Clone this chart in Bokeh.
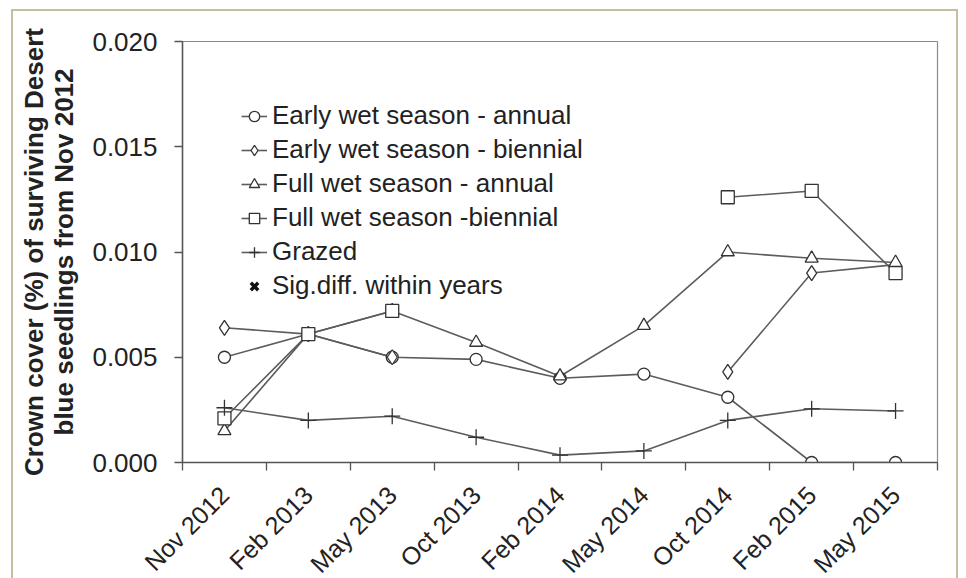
import math
from bokeh.plotting import figure
from bokeh.models import ColumnDataSource, FixedTicker, NumeralTickFormatter, Range1d, Legend, LegendItem
from bokeh.embed import file_html
from bokeh.resources import INLINE

nan = float("nan")

categories = ["Nov 2012", "Feb 2013", "May 2013", "Oct 2013", "Feb 2014",
              "May 2014", "Oct 2014", "Feb 2015", "May 2015"]
early_annual = [0.0050, 0.0061, 0.0050, 0.0049, 0.0040, 0.0042, 0.0031, 0.0000, 0.0000]
early_biennial = [0.0064, 0.0061, 0.0050, nan, nan, nan, 0.0043, 0.0090, 0.0094]
full_annual = [0.0015, 0.0061, 0.0072, 0.0057, 0.0041, 0.0065, 0.0100, 0.0097, 0.0095]
full_biennial = [0.0021, 0.0061, 0.0072, nan, nan, nan, 0.0126, 0.0129, 0.0090]
grazed = [0.0026, 0.0020, 0.0022, 0.0012, 0.00035, 0.00055, 0.0020, 0.00255, 0.00245]
y_ticks = [0.000, 0.005, 0.010, 0.015, 0.020]

series_labels = ["Early wet season - annual", "Early wet season - biennial",
                 "Full wet season - annual", "Full wet season -biennial", "Grazed"]
sig_label = "Sig.diff. within years"

n = len(categories)
xs = [2 * i + 1 for i in range(n)]

FONT = "Liberation Sans"
LINE_C = "#5c5c5c"
MARK_C = "#333333"

p = figure(frame_width=755, frame_height=421, output_backend="svg", toolbar_location=None,
           x_range=Range1d(0, 2 * n), y_range=Range1d(0, 0.020),
           min_border_left=169, min_border_right=19, min_border_top=30, min_border_bottom=117)
p.styles = {"border": "2px solid #c4bf9c", "margin-left": "11px", "margin-top": "9px"}

p.xgrid.visible = False
p.ygrid.visible = False
p.outline_line_color = "#8a8a8a"
p.outline_line_width = 1.2
p.background_fill_color = "white"
p.border_fill_color = "white"

# x axis
p.xaxis.ticker = FixedTicker(ticks=xs, minor_ticks=list(range(0, 2 * n + 1, 2)))
p.xaxis.major_label_overrides = {x: c for x, c in zip(xs, categories)}
p.xaxis.major_tick_line_color = None
p.xaxis.minor_tick_out = 8
p.xaxis.minor_tick_in = 0
p.xaxis.minor_tick_line_color = "#555555"
p.xaxis.minor_tick_line_width = 1.3
p.xaxis.axis_line_color = "#555555"
p.xaxis.axis_line_width = 1.5
p.xaxis.major_label_orientation = math.pi / 4
p.xaxis.major_label_text_font = FONT
p.xaxis.major_label_text_font_size = "25px"
p.xaxis.major_label_text_color = "#222222"
p.xaxis.major_label_standoff = 20

# y axis
p.yaxis.ticker = FixedTicker(ticks=y_ticks, minor_ticks=[])
p.yaxis.formatter = NumeralTickFormatter(format="0.000")
p.yaxis.major_tick_out = 8
p.yaxis.major_tick_in = 0
p.yaxis.major_tick_line_color = "#555555"
p.yaxis.major_tick_line_width = 1.3
p.yaxis.axis_line_color = "#555555"
p.yaxis.axis_line_width = 1.5
p.yaxis.major_label_text_font = FONT
p.yaxis.major_label_text_font_size = "26px"
p.yaxis.major_label_text_color = "#222222"
p.yaxis.major_label_standoff = 17
p.yaxis.axis_label = "Crown cover (%) of surviving Desert\nblue seedlings from Nov 2012"
p.yaxis.axis_label_text_font = FONT
p.yaxis.axis_label_text_font_style = "bold"
p.yaxis.axis_label_text_font_size = "26px"
p.yaxis.axis_label_text_line_height = 1.0
p.yaxis.axis_label_text_color = "#222222"
p.yaxis.axis_label_standoff = 10

specs = [
    (early_annual, "circle", 12),
    (early_biennial, "diamond", 15),
    (full_annual, "triangle", 13),
    (full_biennial, "square", 13),
]

items = []
line_rs = []
for vals, marker, size in specs:
    src = ColumnDataSource(data=dict(x=xs, y=vals))
    lr = p.line("x", "y", source=src, line_color=LINE_C, line_width=1.6)
    line_rs.append((lr, src, marker, size))

gsrc = ColumnDataSource(data=dict(x=xs, y=grazed))
glr = p.line("x", "y", source=gsrc, line_color=LINE_C, line_width=1.6)

for (lr, src, marker, size), lab in zip(line_rs, series_labels[:4]):
    sr = p.scatter("x", "y", source=src, marker=marker, size=size,
                   fill_color="white", line_color=MARK_C, line_width=1.3)
    items.append(LegendItem(label=lab, renderers=[lr, sr]))

gsr = p.scatter("x", "y", source=gsrc, marker="cross", size=16,
                line_color=MARK_C, line_width=1.3)
items.append(LegendItem(label=series_labels[4], renderers=[glr, gsr]))

# legend-only entry: no data point is drawn for it in the plot
sig_src = ColumnDataSource(data=dict(x=[nan], y=[nan]))
sig_r = p.scatter("x", "y", source=sig_src, marker="x", size=14,
                  line_color="#111111", line_width=3.4)
items.append(LegendItem(label=sig_label, renderers=[sig_r]))

legend = Legend(items=items, location="top_left",
                margin=59, padding=0, spacing=3,
                label_height=30, glyph_height=26, glyph_width=26, label_standoff=5,
                label_text_font=FONT, label_text_font_size="26px",
                label_text_color="#222222",
                background_fill_alpha=0, border_line_color=None)
p.add_layout(legend)

open("out.html", "w").write(file_html(p, INLINE))
